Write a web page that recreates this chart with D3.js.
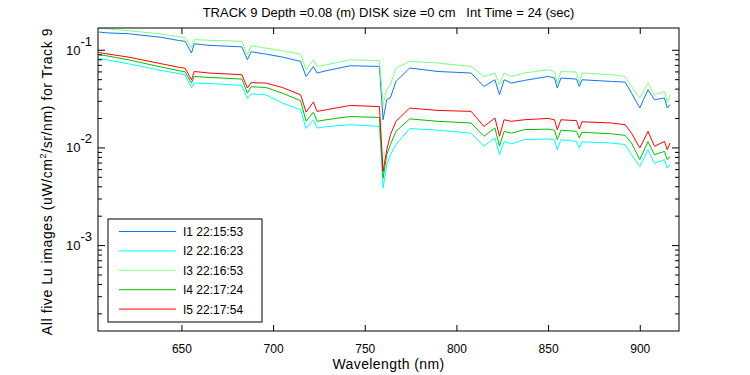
<!DOCTYPE html>
<html>
<head>
<meta charset="utf-8">
<script src="https://cdn.jsdelivr.net/npm/d3@7"></script>
<style>
    body { margin: 0; background: #fff; }
    text { font-family: "Liberation Sans", Arial, sans-serif; fill: #000; }
</style>
</head>
<body>
<script>
// Lu spectra for track 9
var wavelengths = [605, 609, 621, 639, 649, 652, 655.5, 657, 665, 683,
    686, 688, 696, 705, 715, 718, 722, 724, 729, 742,
    758, 760, 762, 764, 767, 774.5, 790, 808, 815, 821,
    823.5, 826, 830, 837, 850, 853.5, 855, 857, 865.5, 867,
    868.5, 884.5, 892, 895.5, 900, 904.5, 908, 913.5, 915, 916.5];

var lu1 = [0.152, 0.149, 0.146, 0.134, 0.124, 0.122, 0.0925, 0.115, 0.111, 0.107,
    0.0790, 0.0954, 0.0903, 0.0842, 0.0760, 0.0533, 0.0675, 0.0578, 0.0610, 0.0686,
    0.0675, 0.0192, 0.0308, 0.0323, 0.0474, 0.0650, 0.0599, 0.0578, 0.0421, 0.0493,
    0.0346, 0.0493, 0.0456, 0.0485, 0.0533, 0.0513, 0.0406, 0.0513, 0.0501, 0.0421,
    0.0493, 0.0474, 0.0467, 0.0360, 0.0253, 0.0390, 0.0308, 0.0320, 0.0253, 0.0274];

var lu2 = [0.0809, 0.0790, 0.0719, 0.0614, 0.0568, 0.0555, 0.0406, 0.0456, 0.0452, 0.0431,
    0.0315, 0.0354, 0.0346, 0.0285, 0.0243, 0.0156, 0.0192, 0.0158, 0.0163, 0.0171,
    0.0164, 0.00385, 0.00666, 0.00842, 0.0107, 0.0156, 0.0150, 0.0140, 0.0103, 0.0125,
    0.00842, 0.0115, 0.0109, 0.0120, 0.0122, 0.0120, 0.00947, 0.0120, 0.0115, 0.00988,
    0.0114, 0.0111, 0.0107, 0.00842, 0.00638, 0.00947, 0.00690, 0.00749, 0.00612, 0.00666];

var lu3 = [0.166, 0.164, 0.157, 0.145, 0.136, 0.133, 0.105, 0.127, 0.125, 0.122,
    0.0889, 0.110, 0.104, 0.0977, 0.0903, 0.0624, 0.0790, 0.0675, 0.0702, 0.0790,
    0.0772, 0.0274, 0.0390, 0.0438, 0.0650, 0.0760, 0.0731, 0.0675, 0.0533, 0.0578,
    0.0438, 0.0578, 0.0533, 0.0578, 0.0624, 0.0599, 0.0456, 0.0599, 0.0591, 0.0456,
    0.0578, 0.0555, 0.0533, 0.0421, 0.0320, 0.0456, 0.0346, 0.0375, 0.0287, 0.0346];

var lu4 = [0.0889, 0.0868, 0.0790, 0.0665, 0.0609, 0.0595, 0.0456, 0.0533, 0.0521, 0.0501,
    0.0360, 0.0418, 0.0411, 0.0360, 0.0301, 0.0185, 0.0230, 0.0185, 0.0192, 0.0207,
    0.0203, 0.00486, 0.00842, 0.0107, 0.0146, 0.0196, 0.0185, 0.0178, 0.0130, 0.0158,
    0.0103, 0.0146, 0.0140, 0.0152, 0.0154, 0.0150, 0.0120, 0.0150, 0.0146, 0.0125,
    0.0143, 0.0138, 0.0133, 0.0111, 0.00749, 0.0115, 0.00842, 0.00911, 0.00749, 0.00805];

var lu5 = [0.0938, 0.0910, 0.0842, 0.0719, 0.0659, 0.0646, 0.0493, 0.0599, 0.0578, 0.0555,
    0.0406, 0.0460, 0.0456, 0.0411, 0.0346, 0.0230, 0.0292, 0.0234, 0.0243, 0.0269,
    0.0262, 0.00569, 0.00947, 0.0135, 0.0185, 0.0253, 0.0239, 0.0234, 0.0164, 0.0200,
    0.0130, 0.0192, 0.0185, 0.0192, 0.0198, 0.0192, 0.0152, 0.0192, 0.0188, 0.0154,
    0.0183, 0.0178, 0.0171, 0.0140, 0.00988, 0.0146, 0.0103, 0.0115, 0.00947, 0.0111];

var seriesNames = ["I1 22:15:53", "I2 22:16:23", "I3 22:16:53",
    "I4 22:17:24", "I5 22:17:54"];
var seriesColors = ["#0a78f0", "#00ffff", "#80ff80", "#00c000", "#ff0000"];

var xTicks = [650, 700, 750, 800, 850, 900];
var yTicks = [1e-3, 1e-2, 1e-1];
var yTickExp = ["-3", "-2", "-1"];

var titleText = "TRACK 9 Depth =0.08 (m) DISK size =0 cm   Int Time = 24 (sec)";

var margin = {top: 28, right: 71, bottom: 44, left: 98},
    width = 750 - margin.left - margin.right,
    height = 375 - margin.top - margin.bottom;

var svg = d3.select("body").append("svg")
    .attr("width", 750)
    .attr("height", 375);

var g = svg.append("g")
    .attr("transform", "translate(" + margin.left + "," + margin.top + ")");

var xScale = d3.scaleLinear().domain([604.5, 921.4]).range([0, width]);
var yScale = d3.scaleLog().domain([1.32e-4, 0.167]).range([height, 0]);

// minor log ticks 2..9 in each decade that falls inside the axis
var yMinor = [];
[1e-4, 1e-3, 1e-2, 1e-1].forEach(function(dec) {
    for (var k = 2; k <= 9; k++) {
        var v = dec * k;
        if (v > yScale.domain()[0] && v < yScale.domain()[1]) yMinor.push(v);
    }
});

// lines, clipped to the plot box
g.append("clipPath").attr("id", "plotClip")
    .append("rect").attr("width", width).attr("height", height);

var allSeries = [lu1, lu2, lu3, lu4, lu5];
var line = d3.line()
    .x(function(d) { return xScale(d[0]); })
    .y(function(d) { return yScale(d[1]); });

allSeries.forEach(function(vals, i) {
    var pts = wavelengths.map(function(w, j) { return [w, vals[j]]; });
    g.append("path")
        .datum(pts)
        .attr("clip-path", "url(#plotClip)")
        .attr("fill", "none")
        .attr("stroke", seriesColors[i])
        .attr("stroke-width", 1)
        .attr("d", line);
});

// MATLAB style: ticks pointing inward on all four sides, no labels except
// on bottom and left
function tidy(sel) {
    sel.select(".domain").remove();
    sel.selectAll("line").attr("stroke", "#000");
}

g.append("g")
    .attr("transform", "translate(0," + height + ")")
    .call(d3.axisBottom(xScale).tickValues(xTicks).tickSize(-6)
        .tickPadding(13).tickFormat(d3.format("d")))
    .call(tidy)
    .selectAll("text")
    .attr("font-size", "12px");

g.append("g")
    .call(d3.axisTop(xScale).tickValues(xTicks).tickSize(-6)
        .tickFormat(""))
    .call(tidy);

[d3.axisLeft, d3.axisRight].forEach(function(ax, side) {
    var tx = side === 0 ? 0 : width;
    g.append("g")
        .attr("transform", "translate(" + tx + ",0)")
        .call(ax(yScale).tickValues(yTicks).tickSize(-7).tickFormat(""))
        .call(tidy);
    g.append("g")
        .attr("transform", "translate(" + tx + ",0)")
        .call(ax(yScale).tickValues(yMinor).tickSize(-4).tickFormat(""))
        .call(tidy);
});

// y tick labels as 10 with superscript exponent
yTicks.forEach(function(t, i) {
    var lbl = g.append("text")
        .attr("x", -6)
        .attr("y", yScale(t) + 5)
        .attr("text-anchor", "end")
        .attr("font-size", "13px");
    lbl.append("tspan").text("10");
    lbl.append("tspan").attr("dy", -9).text(yTickExp[i]);
});

// box round the plot
g.append("rect")
    .attr("width", width)
    .attr("height", height)
    .attr("fill", "none")
    .attr("stroke", "#000")
    .attr("stroke-width", 1);

// title and axis labels
svg.append("text")
    .attr("x", margin.left + width / 2)
    .attr("y", 17)
    .attr("text-anchor", "middle")
    .attr("font-size", "13px")
    .style("white-space", "pre")
    .text(titleText);

svg.append("text")
    .attr("x", margin.left + width / 2)
    .attr("y", 369)
    .attr("text-anchor", "middle")
    .attr("font-size", "14px")
    .attr("letter-spacing", "0.4px")
    .text("Wavelength (nm)");

var ylab = svg.append("text")
    .attr("transform", "translate(52," + (margin.top + height / 2 + 2) + ") rotate(-90)")
    .attr("text-anchor", "middle")
    .attr("font-size", "14px")
    .attr("letter-spacing", "0.6px");
ylab.append("tspan").text("All five Lu images (uW/cm");
ylab.append("tspan").attr("dy", -6).attr("font-size", "9px").text("2");
ylab.append("tspan").attr("dy", 6).text("/sr/nm) for Track 9");

// legend
var legend = g.append("g").attr("transform", "translate(10,191)");
legend.append("rect")
    .attr("width", 154)
    .attr("height", 103)
    .attr("fill", "#fff")
    .attr("stroke", "#000");

seriesNames.forEach(function(name, i) {
    var row = legend.append("g")
        .attr("transform", "translate(0," + (12.5 + i * 19.4) + ")");
    row.append("line")
        .attr("x1", 11).attr("x2", 68)
        .attr("stroke", seriesColors[i]);
    row.append("text")
        .attr("x", 75)
        .attr("y", 4.5)
        .attr("font-size", "12px")
        .text(name);
});
</script>
</body>
</html>
